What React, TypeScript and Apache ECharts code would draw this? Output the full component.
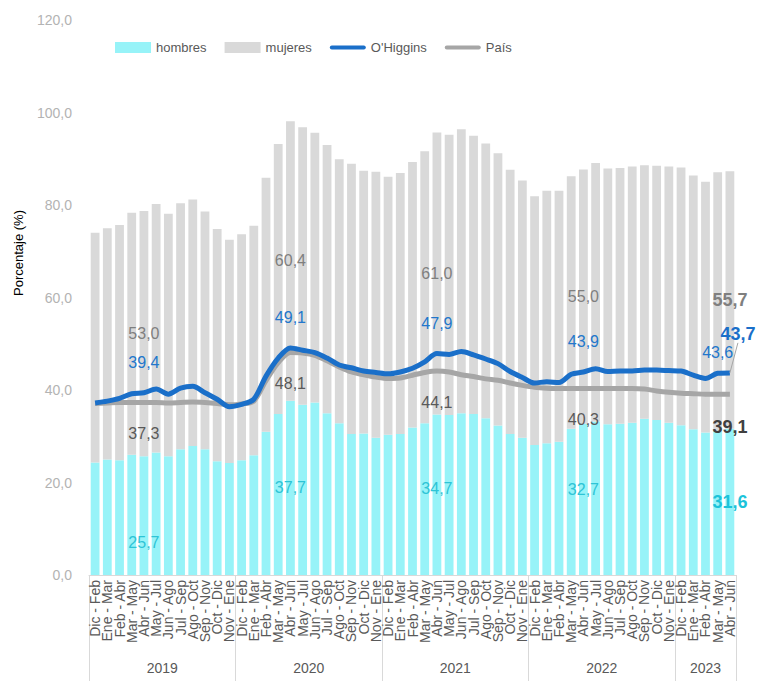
import React, { useEffect, useRef } from 'react';
import * as echarts from 'echarts';

const years = ['2019', '2020', '2021', '2022', '2023'];
const periodsPerYear = [12, 12, 12, 12, 5];
const periodNames = ['Dic - Feb', 'Ene - Mar', 'Feb - Abr', 'Mar - May', 'Abr - Jun', 'May - Jul', 'Jun - Ago', 'Jul - Sep', 'Ago - Oct', 'Sep - Nov', 'Oct - Dic', 'Nov - Ene'];
const categories: string[] = years.flatMap((y, k) => periodNames.slice(0, periodsPerYear[k]));
const categoryYear: string[] = years.flatMap((y, k) => Array(periodsPerYear[k]).fill(y));

const hombres = [24.3, 25.0, 24.8, 26.0, 25.7, 26.5, 25.7, 27.2, 27.9, 27.2, 24.6, 24.2,
  24.8, 25.9, 31.0, 34.8, 37.7, 36.8, 37.3, 35.0, 32.8, 30.5, 30.6, 29.7,
  30.3, 30.5, 31.9, 32.8, 34.7, 34.6, 35.0, 34.8, 33.9, 32.3, 30.5, 29.7,
  28.1, 28.5, 28.8, 31.6, 32.7, 33.2, 32.6, 32.7, 32.9, 33.8, 33.5, 32.9,
  32.4, 31.5, 30.8, 31.2, 31.6];
const mujeres = [49.7, 50.0, 50.9, 52.3, 53.0, 53.7, 52.4, 53.2, 53.3, 51.4, 50.2, 48.3,
  48.9, 49.6, 54.9, 58.4, 60.4, 60.0, 58.3, 58.0, 57.1, 58.4, 56.8, 57.5,
  55.8, 56.4, 57.4, 58.8, 61.0, 60.6, 61.4, 60.2, 59.4, 58.9, 57.1, 55.6,
  53.8, 54.6, 54.3, 54.6, 55.0, 55.9, 55.3, 55.3, 55.4, 54.8, 55.0, 55.4,
  55.7, 54.9, 54.2, 55.9, 55.7];
const ohiggins = [37.2, 37.6, 38.2, 39.2, 39.4, 40.2, 39.1, 40.4, 40.8, 39.4, 38.0, 36.4,
  36.9, 38.0, 43.0, 46.9, 49.1, 48.6, 48.1, 46.9, 45.4, 44.8, 44.1, 43.8,
  43.5, 43.9, 44.7, 46.1, 47.9, 47.7, 48.3, 47.6, 46.7, 45.7, 44.0, 42.7,
  41.5, 41.8, 41.6, 43.4, 43.9, 44.6, 44.0, 44.1, 44.1, 44.3, 44.3, 44.2,
  44.1, 43.2, 42.5, 43.6, 43.7];
const pais = [37.1, 37.2, 37.3, 37.3, 37.3, 37.3, 37.2, 37.3, 37.4, 37.3, 37.1, 36.8,
  37.0, 37.6, 42.0, 45.9, 48.1, 48.0, 47.5, 46.3, 45.0, 43.9, 43.3, 42.8,
  42.5, 42.6, 43.2, 43.8, 44.1, 43.9, 43.3, 42.9, 42.4, 42.1, 41.5, 41.0,
  40.6, 40.4, 40.3, 40.3, 40.3, 40.3, 40.3, 40.3, 40.3, 40.2, 39.8, 39.5,
  39.3, 39.2, 39.1, 39.1, 39.1];
const yTicks = { min: 0, max: 120, step: 20 };

const labeledIdx = [4, 16, 28, 40];
const lastIdx = categories.length - 1;

const fmt = (v: number) => v.toFixed(1).replace('.', ',');
const FONT = "'Liberation Sans', Arial, sans-serif";

function withLabels(values: number[], cfg: Record<number, any>) {
  return values.map((v, i) =>
    cfg[i] ? { value: v, label: { show: true, formatter: (p: any) => fmt(p.value), fontFamily: FONT, ...cfg[i] } } : v
  );
}

export default function App() {
  const ref = useRef<HTMLDivElement>(null);
  useEffect(() => {
    document.body.style.margin = '0';
    const chart = echarts.init(ref.current!, undefined, { renderer: 'svg' });

    const yearLabelIdx: Record<number, number> = {};
    let start = 0;
    periodsPerYear.forEach((n) => {
      const mid = (n - 1) / 2;
      const idx = start + Math.floor(mid);
      yearLabelIdx[idx] = mid - Math.floor(mid);
      start += n;
    });
    const yearStarts: number[] = [];
    start = 0;
    periodsPerYear.forEach((n) => { yearStarts.push(start); start += n; });

    const blueLbl = { color: '#2277cc', fontSize: 16, position: 'top', distance: 22 };
    const grayLbl = { color: '#595959', fontSize: 16, position: 'bottom', distance: 23 };
    const hCfg: Record<number, any> = {
      4: { offset: [0, 27] }, 16: {}, 28: { offset: [0, -6] }, 40: { offset: [0, -10] },
      [lastIdx]: { fontWeight: 'bold', fontSize: 18, color: '#1cc3da' },
    };
    Object.keys(hCfg).forEach((k) => {
      hCfg[+k] = { position: 'inside', color: '#2ec4d6', fontSize: 16, ...hCfg[+k] };
    });
    const mCfg: Record<number, any> = {};
    labeledIdx.forEach((i) => (mCfg[i] = { position: 'inside', color: '#7f7f7f', fontSize: 16 }));
    mCfg[lastIdx] = { position: 'inside', color: '#7f7f7f', fontSize: 18, fontWeight: 'bold' };
    const oCfg: Record<number, any> = {};
    labeledIdx.forEach((i) => (oCfg[i] = { ...blueLbl }));
    oCfg[lastIdx - 1] = { ...blueLbl, distance: 13 };
    oCfg[lastIdx] = { ...blueLbl, fontSize: 18, fontWeight: 'bold', color: '#1a6fc9', distance: 5 };
    const pCfg: Record<number, any> = {};
    labeledIdx.forEach((i) => (pCfg[i] = { ...grayLbl }));
    pCfg[lastIdx] = { ...grayLbl, fontSize: 18, fontWeight: 'bold', color: '#404040', distance: 24 };

    const ohigginsData: any[] = withLabels(ohiggins, oCfg);
    ohigginsData[lastIdx] = {
      ...ohigginsData[lastIdx],
      labelLine: { show: true, lineStyle: { color: '#a6a6a6', width: 1 } },
    };

    const linePath = 'path://M2,0 L34,0 A2,2 0 0 1 34,4 L2,4 A2,2 0 0 1 2,0 Z';

    chart.setOption({
      animation: false,
      textStyle: { fontFamily: FONT },
      grid: { left: 89, right: 22, top: 20, bottom: 106, containLabel: false },
      legend: {
        left: 110, top: 36, itemWidth: 36, itemHeight: 11, itemGap: 18,
        textStyle: { fontSize: 13, color: '#595959', fontFamily: FONT },
        data: [
          { name: 'hombres', icon: 'rect' },
          { name: 'mujeres', icon: 'rect' },
          { name: "O'Higgins", icon: linePath },
          { name: 'País', icon: linePath },
        ],
      },
      graphic: [{
        type: 'text', x: 18, y: 253, rotation: Math.PI / 2,
        style: { text: 'Porcentaje (%)', fontSize: 13, fill: '#000', fontFamily: FONT, align: 'center', verticalAlign: 'middle' },
      }],
      xAxis: [
        {
          type: 'category', data: categories, position: 'bottom',
          axisLine: { show: true, lineStyle: { color: '#d9d9d9' } },
          axisTick: {
            show: true, length: 106, lineStyle: { color: '#d9d9d9' },
            interval: (i: number) => yearStarts.includes(i),
          },
          axisLabel: { interval: 0, rotate: 90, fontSize: 14, color: '#595959', margin: 5, fontFamily: FONT },
        },
        {
          type: 'category', data: categoryYear, position: 'bottom',
          axisLine: { show: false }, axisTick: { show: false },
          axisLabel: {
            interval: (i: number) => i in yearLabelIdx,
            margin: 86,
            formatter: (v: string, i: number) => (yearLabelIdx[i] ? `{s|${v}}` : `{c|${v}}`),
            rich: {
              s: { padding: [0, 0, 0, 12.2], fontSize: 14, color: '#595959', fontFamily: FONT },
              c: { fontSize: 14, color: '#595959', fontFamily: FONT },
            },
          },
        },
      ],
      yAxis: {
        type: 'value', min: yTicks.min, max: yTicks.max, interval: yTicks.step,
        axisLine: { show: false }, axisTick: { show: false }, splitLine: { show: false },
        axisLabel: { formatter: (v: number) => fmt(v), fontSize: 14, color: '#b3b3b3', margin: 17, fontFamily: FONT },
      },
      series: [
        {
          name: 'hombres', type: 'bar', stack: 'total', barCategoryGap: '28%',
          itemStyle: { color: '#97f3f8' }, color: '#97f3f8',
          data: withLabels(hombres, hCfg),
        },
        {
          name: 'mujeres', type: 'bar', stack: 'total', barCategoryGap: '28%',
          itemStyle: { color: '#d9d9d9' }, color: '#d9d9d9',
          data: withLabels(mujeres, mCfg),
        },
        {
          name: 'País', type: 'line', smooth: 0.3, symbol: 'circle', symbolSize: 0.01, z: 3,
          color: '#a6a6a6', lineStyle: { color: '#a6a6a6', width: 5 }, itemStyle: { color: '#a6a6a6' },
          data: withLabels(pais, pCfg),
        },
        {
          name: "O'Higgins", type: 'line', smooth: 0.3, symbol: 'circle', symbolSize: 0.01, z: 4,
          color: '#1a6fc9', lineStyle: { color: '#1a6fc9', width: 5 }, itemStyle: { color: '#1a6fc9' },
          labelLayout: (p: any) => (p.dataIndex === lastIdx ? { dx: 8, dy: -25 } : {}),
          data: ohigginsData,
        },
      ],
    });
    return () => chart.dispose();
  }, []);
  return <div ref={ref} style={{ width: 758, height: 681 }} />;
}
